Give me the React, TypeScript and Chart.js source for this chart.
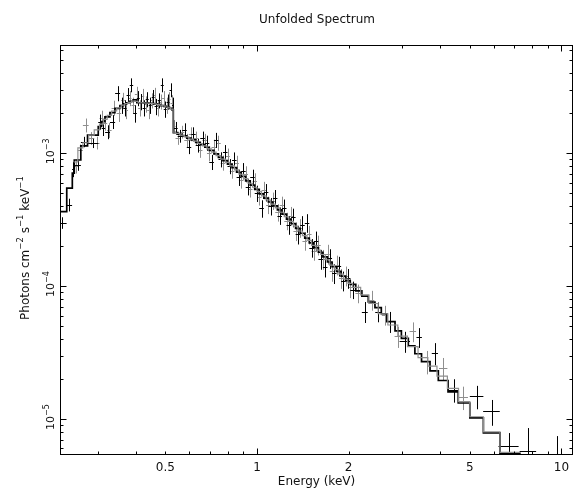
import React, { useEffect, useRef } from "react";
import { Chart, registerables } from "chart.js";

Chart.register(...registerables);

// ---------- axis ranges ----------
const X_MIN = 0.2254;
const X_MAX = 10.91;
const Y_MIN = 5.36e-6;
const Y_MAX = 6.53e-3;

// ---------- texts / ticks ----------
const TITLE = "Unfolded Spectrum";
const X_TITLE = "Energy (keV)";
const xLabelValues = [0.5, 1, 2, 5, 10];
const xLabelTexts = ["0.5", "1", "2", "5", "10"];
const xMajorTicks = [1, 10];
const xMinorTicks = [0.3, 0.4, 0.5, 0.6, 0.7, 0.8, 0.9, 2, 3, 4, 5, 6, 7, 8, 9];
const yLabelValues = [1e-3, 1e-4, 1e-5];
const yLabelExponents = ["\u22123", "\u22124", "\u22125"];
const yMajorTicks = [1e-3, 1e-4, 1e-5];
const yMinorTicks = [
  6e-6, 7e-6, 8e-6, 9e-6,
  2e-5, 3e-5, 4e-5, 5e-5, 6e-5, 7e-5, 8e-5, 9e-5,
  2e-4, 3e-4, 4e-4, 5e-4, 6e-4, 7e-4, 8e-4, 9e-4,
  2e-3, 3e-3, 4e-3, 5e-3, 6e-3,
];
const yTitleTexts = ["Photons cm", "\u22122", " s", "\u22121", " keV", "\u22121"];
const yTitleIsSup = [false, true, false, true, false, true];

// ---------- black data set (centre energy, half bin width, flux, fractional error) ----------
const blackE = [
  0.228, 0.242, 0.249, 0.2575, 0.271, 0.2895, 0.305, 0.313, 0.323, 0.3355, 0.3485, 0.3595, 0.3685, 0.3775, 0.387,
  0.3975, 0.4075, 0.4165, 0.426, 0.436, 0.446, 0.456, 0.4665, 0.4775, 0.4885, 0.4995, 0.5105, 0.521, 0.5285,
  0.540, 0.5585, 0.578, 0.598, 0.6185, 0.640, 0.6625, 0.6855, 0.7095, 0.7345, 0.760, 0.7865, 0.814, 0.8425, 0.872,
  0.9025, 0.934, 0.9665, 1.000, 1.035, 1.0715, 1.109, 1.1475, 1.1875, 1.229, 1.272, 1.3165, 1.3625, 1.4105, 1.460,
  1.511, 1.564, 1.6185, 1.675, 1.734, 1.7945, 1.857, 1.922, 1.9895,
  2.07, 2.26, 2.50, 2.73, 3.06, 3.41, 3.84, 4.42, 5.27, 5.90, 6.72, 7.77, 9.65,
];
const blackDE = [
  0.009, 0.005, 0.002, 0.0065, 0.007, 0.0115, 0.004, 0.004, 0.006, 0.0065, 0.0065, 0.0045, 0.0045, 0.0045, 0.005,
  0.0055, 0.0045, 0.0045, 0.005, 0.005, 0.005, 0.005, 0.0055, 0.0055, 0.0055, 0.0055, 0.0055, 0.005, 0.0025,
  0.009, 0.0095, 0.010, 0.010, 0.0105, 0.011, 0.0115, 0.0115, 0.0125, 0.0125, 0.013, 0.0135, 0.014, 0.0145, 0.015,
  0.0155, 0.016, 0.0165, 0.017, 0.018, 0.0185, 0.019, 0.0195, 0.0205, 0.021, 0.022, 0.0225, 0.0235, 0.0245, 0.025,
  0.026, 0.027, 0.0275, 0.029, 0.030, 0.0305, 0.032, 0.033, 0.0345,
  0.045, 0.05, 0.055, 0.06, 0.12, 0.07, 0.09, 0.17, 0.27, 0.37, 0.51, 0.485, 0.45,
];
const blackF = [
  3.0e-4, 4.1e-4, 7.6e-4, 8.2e-4, 1.22e-3, 1.19e-3, 1.73e-3, 1.55e-3, 1.45e-3, 1.73e-3, 2.83e-3, 2.3e-3, 2.2e-3, 2.74e-3, 3.27e-3,
  2.0e-3, 2.6e-3, 2.45e-3, 2.2e-3, 2.55e-3, 2.3e-3, 2.65e-3, 2.25e-3, 2.5e-3, 3.27e-3, 2.15e-3, 2.45e-3, 3.0e-3, 2.3e-3,
  1.55e-3, 1.35e-3, 1.5e-3, 1.12e-3, 1.4e-3, 1.15e-3, 1.3e-3, 1.2e-3, 8.6e-4, 1.26e-3, 9.0e-4, 1.02e-3, 8.0e-4, 8.9e-4, 6.6e-4,
  7.4e-4, 5.6e-4, 6.6e-4, 5.0e-4, 3.85e-4, 5.1e-4, 4.0e-4, 4.6e-4, 3.4e-4, 3.9e-4, 2.9e-4, 3.3e-4, 2.45e-4, 2.9e-4, 3.0e-4,
  1.95e-4, 2.2e-4, 1.6e-4, 1.4e-4, 1.62e-4, 1.25e-4, 1.42e-4, 1.1e-4, 1.15e-4,
  9.4e-5, 6.44e-5, 6.44e-5, 5.42e-5, 3.84e-5, 4.13e-5, 3.13e-5, 1.66e-5, 1.48e-5, 1.14e-5, 6.22e-6, 5.7e-6, 4.8e-6,
];
const blackErr = [
  0.10, 0.11, 0.13, 0.10, 0.09, 0.08, 0.13, 0.13, 0.12, 0.12, 0.13, 0.14, 0.14, 0.13, 0.12,
  0.15, 0.13, 0.14, 0.14, 0.13, 0.14, 0.13, 0.14, 0.13, 0.12, 0.14, 0.13, 0.12, 0.14,
  0.11, 0.11, 0.12, 0.12, 0.12, 0.12, 0.12, 0.13, 0.13, 0.13, 0.13, 0.13, 0.13, 0.14, 0.14,
  0.14, 0.14, 0.14, 0.14, 0.15, 0.15, 0.15, 0.15, 0.15, 0.15, 0.16, 0.16, 0.16, 0.16, 0.16,
  0.16, 0.17, 0.17, 0.17, 0.17, 0.17, 0.17, 0.17, 0.17,
  0.15, 0.18, 0.17, 0.18, 0.18, 0.17, 0.19, 0.2, 0.2, 0.22, 0.26, 0.5, 0.55,
];

// ---------- grey data set ----------
const greyE = [
  0.254, 0.263, 0.274, 0.286, 0.298, 0.3085, 0.3175, 0.3275, 0.3395, 0.352, 0.363, 0.3725, 0.382, 0.392, 0.402,
  0.412, 0.4215, 0.431, 0.441, 0.451, 0.461, 0.4715, 0.4825, 0.4935, 0.5045, 0.515, 0.525,
  0.535, 0.549, 0.5675, 0.587, 0.6075, 0.629, 0.651, 0.6735, 0.697, 0.7215, 0.747, 0.7735, 0.8005, 0.8285, 0.8575,
  0.8875, 0.9185, 0.9505, 0.9835, 1.0175, 1.053, 1.090, 1.1285, 1.168, 1.2085, 1.2505, 1.2945, 1.340, 1.3865, 1.435,
  1.4855, 1.5375, 1.5915, 1.647, 1.7045, 1.7645, 1.8265, 1.8905, 1.9565, 2.025,
  2.15, 2.38, 2.63, 2.90, 3.25, 3.62, 4.09, 4.76,
];
const greyDE = [
  0.004, 0.005, 0.006, 0.006, 0.006, 0.0045, 0.0045, 0.0055, 0.0065, 0.006, 0.005, 0.0045, 0.005, 0.005, 0.005,
  0.005, 0.0045, 0.005, 0.005, 0.005, 0.005, 0.0055, 0.0055, 0.0055, 0.0055, 0.005, 0.005,
  0.005, 0.009, 0.0095, 0.010, 0.0105, 0.011, 0.011, 0.0115, 0.012, 0.0125, 0.013, 0.0135, 0.0135, 0.0145, 0.0145,
  0.0155, 0.0155, 0.0165, 0.0165, 0.0175, 0.018, 0.019, 0.0195, 0.020, 0.0205, 0.0215, 0.0225, 0.023, 0.0235, 0.025,
  0.0255, 0.0265, 0.0275, 0.028, 0.0295, 0.0305, 0.0315, 0.0325, 0.0335, 0.035,
  0.045, 0.05, 0.06, 0.07, 0.08, 0.1, 0.13, 0.17,
];
const greyF = [
  8.0e-4, 1.05e-3, 1.63e-3, 1.3e-3, 1.2e-3, 1.85e-3, 1.7e-3, 1.5e-3, 2.2e-3, 2.0e-3, 2.5e-3, 2.1e-3, 2.6e-3, 2.3e-3, 2.8e-3,
  2.2e-3, 2.7e-3, 2.35e-3, 2.1e-3, 2.5e-3, 2.75e-3, 2.2e-3, 2.45e-3, 2.6e-3, 2.3e-3, 2.55e-3, 2.4e-3,
  1.6e-3, 1.3e-3, 1.45e-3, 1.25e-3, 1.4e-3, 1.3e-3, 1.05e-3, 1.25e-3, 1.0e-3, 1.12e-3, 1.2e-3, 8.5e-4, 9.6e-4, 7.4e-4, 8.4e-4,
  6.3e-4, 7.0e-4, 5.4e-4, 6.2e-4, 4.7e-4, 5.3e-4, 4.1e-4, 4.4e-4, 3.6e-4, 4.1e-4, 3.1e-4, 3.4e-4, 2.6e-4, 2.75e-4, 2.2e-4,
  2.45e-4, 1.85e-4, 2.05e-4, 1.6e-4, 1.75e-4, 1.3e-4, 1.45e-4, 1.15e-4, 1.2e-4, 9.8e-5,
  8.85e-5, 7.88e-5, 6.08e-5, 4.18e-5, 4.56e-5, 2.71e-5, 2.42e-5, 1.46e-5,
];
const greyErr = [
  0.12, 0.11, 0.12, 0.11, 0.11, 0.13, 0.13, 0.13, 0.13, 0.14, 0.14, 0.14, 0.13, 0.14, 0.13,
  0.14, 0.13, 0.14, 0.14, 0.13, 0.13, 0.14, 0.13, 0.13, 0.14, 0.13, 0.14,
  0.11, 0.11, 0.11, 0.12, 0.12, 0.12, 0.12, 0.12, 0.13, 0.13, 0.13, 0.13, 0.13, 0.13, 0.14,
  0.14, 0.14, 0.14, 0.14, 0.14, 0.15, 0.15, 0.15, 0.15, 0.15, 0.15, 0.16, 0.16, 0.16, 0.16,
  0.16, 0.16, 0.17, 0.17, 0.17, 0.17, 0.17, 0.17, 0.17, 0.17,
  0.16, 0.17, 0.17, 0.18, 0.17, 0.2, 0.19, 0.2,
];

// ---------- folded-back models (bin edges, model flux per bin) ----------
const blackModelEdges = [
  0.218, 0.2372, 0.2474, 0.2511, 0.2638, 0.2776, 0.301, 0.3087, 0.3166, 0.3288, 0.3415, 0.3547, 0.364, 0.373, 0.382,
  0.392, 0.403, 0.412, 0.421, 0.431, 0.441, 0.451, 0.461, 0.472, 0.483, 0.494, 0.505, 0.516, 0.526, 0.531,
  0.549, 0.568, 0.588, 0.608, 0.629, 0.651, 0.674, 0.697, 0.722, 0.747, 0.773, 0.800, 0.828, 0.857, 0.887,
  0.918, 0.950, 0.983, 1.017, 1.053, 1.090, 1.128, 1.167, 1.208, 1.250, 1.294, 1.339, 1.386, 1.435, 1.485,
  1.537, 1.591, 1.646, 1.704, 1.764, 1.825, 1.889, 1.955, 2.024,
  2.11, 2.21, 2.32, 2.44, 2.56, 2.67, 2.84, 2.98, 3.14, 3.30, 3.47, 3.70, 3.94, 4.24, 4.58, 5.00, 5.54, 6.28, 7.30, 8.27, 10.5,
];
const blackModel = [
  3.64e-4, 5.46e-4, 7.08e-4, 8.9e-4, 1.135e-3, 1.37e-3, 1.59e-3, 1.73e-3, 1.88e-3, 2.02e-3, 2.18e-3, 2.28e-3, 2.35e-3, 2.40e-3,
  2.46e-3, 2.52e-3, 2.40e-3, 2.40e-3, 2.40e-3, 2.39e-3, 2.38e-3, 2.37e-3, 2.35e-3, 2.32e-3, 2.28e-3, 2.25e-3, 2.22e-3, 2.18e-3, 2.12e-3,
  1.43e-3, 1.39e-3, 1.35e-3, 1.30e-3, 1.26e-3, 1.21e-3, 1.16e-3, 1.11e-3, 1.05e-3, 9.9e-4, 9.3e-4, 8.8e-4, 8.3e-4, 7.8e-4, 7.2e-4,
  6.7e-4, 6.2e-4, 5.75e-4, 5.35e-4, 4.95e-4, 4.6e-4, 4.3e-4, 4.02e-4, 3.75e-4, 3.48e-4, 3.2e-4, 2.95e-4, 2.72e-4, 2.5e-4, 2.3e-4,
  2.12e-4, 1.95e-4, 1.8e-4, 1.66e-4, 1.52e-4, 1.4e-4, 1.29e-4, 1.19e-4, 1.1e-4,
  1.03e-4, 9.2e-5, 8.4e-5, 7.6e-5, 6.9e-5, 6.2e-5, 5.4e-5, 4.6e-5, 4.05e-5, 3.55e-5, 3.1e-5, 2.7e-5, 2.3e-5, 1.95e-5, 1.6e-5,
  1.32e-5, 1.02e-5, 7.86e-6, 5.52e-6, 4.3e-6, 3.3e-6,
];
const greyModelEdges = [
  0.250, 0.258, 0.268, 0.280, 0.292, 0.304, 0.313, 0.322, 0.333, 0.346, 0.358, 0.368, 0.377, 0.387, 0.397,
  0.407, 0.417, 0.426, 0.436, 0.446, 0.456, 0.466, 0.477, 0.488, 0.499, 0.510, 0.520, 0.530,
  0.540, 0.558, 0.577, 0.597, 0.618, 0.640, 0.662, 0.685, 0.709, 0.734, 0.760, 0.787, 0.814, 0.843, 0.872,
  0.903, 0.934, 0.967, 1.000, 1.035, 1.071, 1.109, 1.148, 1.188, 1.229, 1.272, 1.317, 1.363, 1.410, 1.460,
  1.511, 1.564, 1.619, 1.675, 1.734, 1.795, 1.858, 1.923, 1.990, 2.06,
  2.19, 2.33, 2.50, 2.69, 2.90, 3.12, 3.38, 3.64, 3.90, 4.22, 4.59, 5.0, 5.54, 6.28, 7.30,
];
const greyModel = [
  8.6e-4, 1.1e-3, 1.2e-3, 1.37e-3, 1.5e-3, 1.66e-3, 1.8e-3, 1.93e-3, 2.08e-3, 2.2e-3, 2.3e-3, 2.37e-3, 2.42e-3, 2.47e-3,
  2.46e-3, 2.40e-3, 2.40e-3, 2.39e-3, 2.38e-3, 2.37e-3, 2.36e-3, 2.33e-3, 2.30e-3, 2.27e-3, 2.23e-3, 2.20e-3, 2.15e-3,
  1.44e-3, 1.41e-3, 1.37e-3, 1.33e-3, 1.28e-3, 1.235e-3, 1.185e-3, 1.135e-3, 1.08e-3, 1.02e-3, 9.6e-4, 9.05e-4, 8.55e-4, 8.05e-4,
  7.5e-4, 6.95e-4, 6.45e-4, 5.95e-4, 5.55e-4, 5.15e-4, 4.78e-4, 4.45e-4, 4.15e-4, 3.88e-4, 3.6e-4, 3.33e-4, 3.07e-4, 2.83e-4,
  2.6e-4, 2.4e-4, 2.21e-4, 2.03e-4, 1.87e-4, 1.73e-4, 1.58e-4, 1.44e-4, 1.33e-4, 1.23e-4, 1.13e-4, 1.05e-4,
  9.8e-5, 8.6e-5, 7.4e-5, 6.2e-5, 5.1e-5, 4.2e-5, 3.5e-5, 2.9e-5, 2.5e-5, 2.1e-5, 1.7e-5, 1.35e-5, 1.04e-5, 8.0e-6, 5.6e-6,
];

// ---------- styles ----------
const BLACK = "#000000";
const GREY = "#8f8f8f";
const FONT = "'DejaVu Sans', 'Liberation Sans', sans-serif";

const crossSeries = [
  { e: greyE, de: greyDE, f: greyF, err: greyErr, color: GREY },
  { e: blackE, de: blackDE, f: blackF, err: blackErr, color: BLACK },
];

function stepPoints(edges: number[], vals: number[]) {
  const n = Math.min(vals.length, edges.length - 1);
  const pts: { x: number; y: number }[] = [];
  for (let i = 0; i < n; i++) pts.push({ x: edges[i], y: vals[i] });
  pts.push({ x: edges[n], y: vals[n - 1] });
  return pts;
}

const errorBarPlugin = {
  id: "errorBars",
  beforeDatasetsDraw(chart: any) {
    const { ctx, chartArea: a } = chart;
    const xs = chart.scales.x;
    const ys = chart.scales.y;
    ctx.save();
    ctx.beginPath();
    ctx.rect(a.left, a.top, a.right - a.left, a.bottom - a.top);
    ctx.clip();
    ctx.lineWidth = 1;
    for (const s of crossSeries) {
      const n = Math.min(s.e.length, s.de.length, s.f.length, s.err.length);
      ctx.strokeStyle = s.color;
      ctx.beginPath();
      for (let i = 0; i < n; i++) {
        const px = Math.round(xs.getPixelForValue(s.e[i])) + 0.5;
        const x0 = xs.getPixelForValue(s.e[i] - s.de[i]);
        const x1 = xs.getPixelForValue(s.e[i] + s.de[i]);
        const py = Math.round(ys.getPixelForValue(s.f[i])) + 0.5;
        const y0 = ys.getPixelForValue(s.f[i] * (1 + s.err[i]));
        const y1 = ys.getPixelForValue(s.f[i] * (1 - s.err[i]));
        ctx.moveTo(x0, py);
        ctx.lineTo(x1, py);
        ctx.moveTo(px, y0);
        ctx.lineTo(px, y1);
      }
      ctx.stroke();
    }
    ctx.restore();
  },
};

function drawParts(ctx: CanvasRenderingContext2D, texts: string[], sups: boolean[], startU: number, main: string, sup: string, rise: number) {
  let u = startU;
  for (let i = 0; i < texts.length; i++) {
    ctx.font = sups[i] ? sup : main;
    ctx.fillText(texts[i], u, sups[i] ? -rise : 0);
    u += ctx.measureText(texts[i]).width;
  }
}
function partsWidth(ctx: CanvasRenderingContext2D, texts: string[], sups: boolean[], main: string, sup: string) {
  let w = 0;
  for (let i = 0; i < texts.length; i++) {
    ctx.font = sups[i] ? sup : main;
    w += ctx.measureText(texts[i]).width;
  }
  return w;
}

const framePlugin = {
  id: "frameAndText",
  afterDraw(chart: any) {
    const { ctx, chartArea: a } = chart;
    const xs = chart.scales.x;
    const ys = chart.scales.y;
    ctx.save();
    ctx.strokeStyle = BLACK;
    ctx.lineWidth = 1;
    // frame
    ctx.strokeRect(a.left + 0.5, a.top + 0.5, a.right - a.left - 1, a.bottom - a.top - 1);
    // ticks
    const MAJ = 6.5;
    const MIN = 3.5;
    ctx.beginPath();
    const xTick = (v: number, len: number) => {
      const px = Math.round(xs.getPixelForValue(v)) + 0.5;
      ctx.moveTo(px, a.bottom);
      ctx.lineTo(px, a.bottom - len);
      ctx.moveTo(px, a.top);
      ctx.lineTo(px, a.top + len);
    };
    const yTick = (v: number, len: number) => {
      const py = Math.round(ys.getPixelForValue(v)) + 0.5;
      ctx.moveTo(a.left, py);
      ctx.lineTo(a.left + len, py);
      ctx.moveTo(a.right, py);
      ctx.lineTo(a.right - len, py);
    };
    xMajorTicks.forEach((v) => xTick(v, MAJ));
    xMinorTicks.forEach((v) => xTick(v, MIN));
    yMajorTicks.forEach((v) => yTick(v, MAJ));
    yMinorTicks.forEach((v) => yTick(v, MIN));
    ctx.stroke();

    ctx.fillStyle = "#111111";
    // title
    ctx.font = `12px ${FONT}`;
    ctx.textAlign = "center";
    ctx.textBaseline = "alphabetic";
    ctx.fillText(TITLE, (a.left + a.right) / 2 + 0.5, 22.5);
    // x tick labels
    xLabelValues.forEach((v, i) => {
      ctx.fillText(xLabelTexts[i], xs.getPixelForValue(v), 471);
    });
    // x title
    ctx.fillText(X_TITLE, (a.left + a.right) / 2, 485);

    // y tick labels (rotated)
    ctx.textAlign = "left";
    const mainY = `11px ${FONT}`;
    const supY = `8px ${FONT}`;
    yLabelValues.forEach((v, i) => {
      const py = ys.getPixelForValue(v);
      const texts = ["10", yLabelExponents[i]];
      const sups = [false, true];
      const w = partsWidth(ctx, texts, sups, mainY, supY);
      ctx.save();
      ctx.translate(53.5, py - 2);
      ctx.rotate(-Math.PI / 2);
      drawParts(ctx, texts, sups, -w / 2, mainY, supY, 5);
      ctx.restore();
    });

    // y title (rotated)
    const mainT = `12px ${FONT}`;
    const supT = `8.5px ${FONT}`;
    const wT = partsWidth(ctx, yTitleTexts, yTitleIsSup, mainT, supT);
    ctx.save();
    ctx.translate(28.5, (a.top + a.bottom) / 2 - 2);
    ctx.rotate(-Math.PI / 2);
    drawParts(ctx, yTitleTexts, yTitleIsSup, -wT / 2, mainT, supT, 5.5);
    ctx.restore();

    ctx.restore();
  },
};

export default function App() {
  const canvasRef = useRef<HTMLCanvasElement | null>(null);

  useEffect(() => {
    document.body.style.margin = "0";
    const canvas = canvasRef.current;
    if (!canvas) return;
    const chart = new Chart(canvas, {
      type: "line",
      data: {
        datasets: [
          {
            label: "grey model",
            data: stepPoints(greyModelEdges, greyModel),
            borderColor: GREY,
            borderWidth: 1.2,
            pointRadius: 0,
            stepped: "before",
            fill: false,
            clip: 0,
          },
          {
            label: "black model",
            data: stepPoints(blackModelEdges, blackModel),
            borderColor: BLACK,
            borderWidth: 1.7,
            pointRadius: 0,
            stepped: "before",
            fill: false,
            clip: 0,
          },
        ],
      },
      options: {
        responsive: false,
        animation: false,
        devicePixelRatio: 1,
        events: [],
        layout: { padding: { left: 60, top: 45, right: 4, bottom: 36 } },
        scales: {
          x: { type: "logarithmic", min: X_MIN, max: X_MAX, display: false },
          y: { type: "logarithmic", min: Y_MIN, max: Y_MAX, display: false },
        },
        plugins: {
          legend: { display: false },
          tooltip: { enabled: false },
          title: { display: false },
        },
      } as any,
      plugins: [errorBarPlugin, framePlugin],
    });
    return () => chart.destroy();
  }, []);

  return (
    <div style={{ width: 577, height: 491, background: "#fff" }}>
      <canvas ref={canvasRef} width={577} height={491} style={{ display: "block" }} />
    </div>
  );
}
